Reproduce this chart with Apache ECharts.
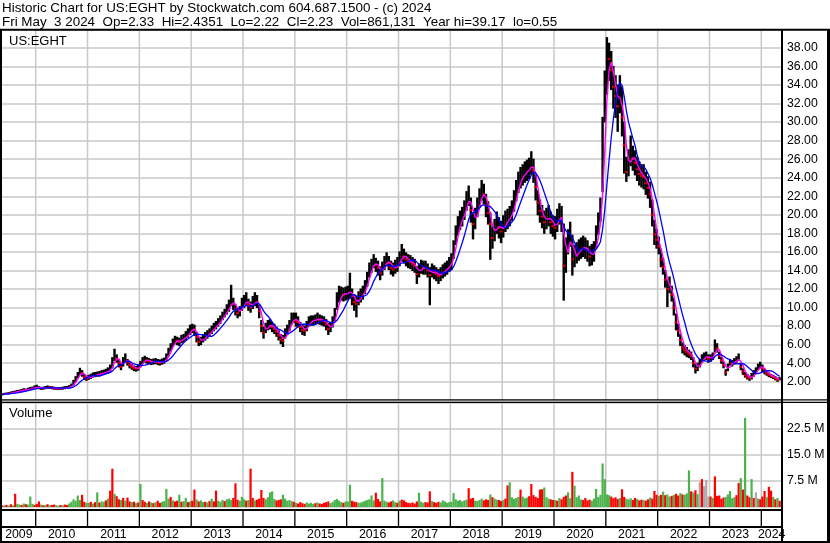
<!DOCTYPE html>
<html><head><meta charset="utf-8">
<script src="https://cdn.jsdelivr.net/npm/echarts@6/dist/echarts.min.js"></script>
<style>html,body{margin:0;padding:0;background:#fff}#c{width:830px;height:543px}</style>
</head><body><div id="c"></div>
<script>
// ---- data: one value per half-month, starting with the first half of May 2009 ----
const FIRST_HALF_MONTH = 8; // index of "May, first half" within 2009 (0 = Jan 1st half)
const yearLabels = ['2009','2010','2011','2012','2013','2014','2015','2016','2017','2018','2019','2020','2021','2022','2023','2024'];

const closeP = [
/*2009*/0.65,0.68,0.72,0.75,0.82,0.86,0.92,0.98,1.02,1.08,1.15,1.12,1.2,1.27,1.32,1.42,
/*2010*/1.42,1.35,1.28,1.3,1.35,1.4,1.38,1.35,1.3,1.28,1.25,1.27,1.3,1.35,1.38,1.45,1.55,1.9,2.3,2.7,3.1,2.9,2.5,2.35,
/*2011*/2.45,2.55,2.7,2.75,2.8,2.85,2.95,3.0,3.1,3.2,3.4,3.9,4.9,4.5,4.0,3.6,4.2,4.6,4.1,3.8,3.6,3.45,3.4,3.5,
/*2012*/3.9,4.3,4.4,4.3,4.2,4.1,4.15,4.2,4.1,4.05,4.15,4.25,4.6,5.2,5.7,6.2,6.5,6.4,6.3,6.6,6.7,6.9,7.2,7.6,
/*2013*/7.8,7.6,6.8,6.3,6.4,6.7,6.9,7.1,7.3,7.6,7.9,8.1,8.4,8.7,9.1,9.4,9.8,10.1,10.9,10.4,9.8,9.4,9.6,10.3,
/*2014*/10.6,10.8,10.3,10.0,10.5,10.8,10.6,9.6,8.0,7.3,7.8,8.1,8.2,7.9,7.7,7.4,7.0,6.6,6.4,7.2,7.6,8.0,8.8,8.9,
/*2015*/8.5,8.4,7.9,7.6,7.5,8.0,8.5,8.6,8.6,8.7,8.8,8.7,8.6,8.5,8.2,7.7,7.9,8.4,9.2,10.5,11.3,11.5,11.4,11.5,
/*2016*/11.6,11.9,11.2,10.6,10.4,11.0,11.3,11.6,12.2,13.0,14.0,14.5,15.0,14.6,14.3,13.7,14.2,14.8,15.2,14.8,14.3,14.1,14.4,14.6,
/*2017*/15.2,15.8,15.5,15.2,15.0,14.9,14.7,14.5,13.6,14.0,14.4,14.3,14.3,14.0,13.5,14.0,13.8,13.6,13.4,13.6,13.9,14.1,14.3,14.6,
/*2018*/15.0,16.2,17.8,18.8,19.4,19.8,20.5,21.5,22.2,20.5,19.0,19.6,20.8,21.8,22.6,22.2,21.0,20.2,19.0,17.5,18.4,19.2,18.6,18.2,
/*2019*/18.8,19.3,19.5,19.8,20.4,21.5,22.6,23.5,24.0,24.3,24.6,24.8,25.0,25.6,24.8,23.0,21.3,20.4,19.8,19.2,19.6,19.9,19.2,18.8,
/*2020*/18.6,19.4,20.2,19.6,14.5,16.0,17.2,18.0,15.2,15.5,15.9,16.2,16.4,16.6,16.4,16.1,15.5,15.7,16.0,17.6,19.0,20.5,27.0,33.0,
/*2021*/37.0,36.8,35.6,33.8,32.8,31.7,33.4,30.5,27.5,24.6,25.6,26.8,26.0,25.6,24.9,24.4,24.2,24.1,23.4,22.9,22.2,20.0,17.9,17.3,
/*2022*/16.6,15.2,14.4,13.0,12.0,12.4,11.4,10.0,8.4,7.5,6.5,5.7,5.4,5.2,5.0,4.8,4.0,3.4,3.6,4.0,4.5,4.7,4.8,4.5,
/*2023*/4.5,4.7,6.0,5.6,4.8,4.3,3.8,3.0,3.6,4.1,4.0,4.2,4.4,4.6,3.6,3.1,2.7,2.5,2.35,2.6,2.9,3.2,3.6,3.8,
/*2024*/3.4,3.1,2.9,2.75,2.6,2.5,2.35,2.2,2.23
];
const lowP = [
/*2009*/0.58,0.62,0.66,0.69,0.75,0.79,0.85,0.9,0.95,1.0,1.05,1.04,1.1,1.17,1.22,1.3,
/*2010*/1.3,1.25,1.18,1.2,1.25,1.3,1.28,1.24,1.2,1.18,1.15,1.17,1.2,1.25,1.28,1.35,1.45,1.65,2.05,2.45,2.8,2.6,2.25,2.15,
/*2011*/2.25,2.35,2.5,2.55,2.6,2.65,2.75,2.8,2.9,2.95,3.15,3.5,4.3,4.1,3.6,3.3,3.7,4.2,3.8,3.5,3.35,3.2,3.15,3.25,
/*2012*/3.6,4.0,4.1,4.0,3.95,3.85,3.9,3.95,3.85,3.8,3.9,4.0,4.3,4.8,5.3,5.8,6.1,6.0,5.9,6.2,6.3,6.5,6.8,7.1,
/*2013*/7.3,7.0,6.3,5.9,6.0,6.3,6.5,6.7,6.9,7.2,7.5,7.7,8.0,8.3,8.7,9.0,9.3,9.6,10.2,9.8,9.2,8.9,9.1,9.7,
/*2014*/10.0,10.2,9.7,9.5,9.9,10.2,10.0,8.9,7.4,6.7,7.3,7.6,7.7,7.4,7.2,6.9,6.5,6.1,5.8,6.7,7.1,7.5,8.2,8.4,
/*2015*/8.0,7.9,7.4,7.1,7.0,7.5,8.0,8.1,8.1,8.2,8.3,8.2,8.1,8.0,7.6,7.1,7.4,7.9,8.6,9.8,10.6,10.8,10.7,10.8,
/*2016*/10.9,11.0,10.3,9.7,9.0,10.3,10.6,10.9,11.5,12.3,13.3,13.8,14.3,13.9,13.5,13.0,13.5,14.1,14.5,14.1,13.6,13.4,13.7,13.9,
/*2017*/14.5,15.0,14.8,14.5,14.3,14.2,14.0,13.8,12.6,13.3,13.7,13.6,13.6,13.3,10.3,13.3,13.1,12.9,12.6,12.9,13.2,13.4,13.6,13.9,
/*2018*/14.1,15.3,16.8,17.8,18.4,18.8,19.5,20.5,21.0,19.2,17.4,18.5,19.8,20.8,21.6,21.2,19.8,19.0,15.2,16.4,17.2,18.0,17.5,17.0,
/*2019*/17.6,18.2,18.5,18.8,19.4,20.4,21.5,22.4,22.9,23.2,23.5,23.7,23.9,24.4,23.5,21.6,20.0,19.2,18.6,18.0,18.5,18.8,18.0,17.7,
/*2020*/17.4,18.2,19.0,18.2,10.8,13.8,15.8,16.6,13.5,14.4,14.8,15.1,15.3,15.5,15.3,15.0,14.5,14.6,15.0,16.4,17.9,19.3,22.5,30.0,
/*2021*/33.0,34.5,33.5,31.5,30.5,29.0,31.0,28.5,24.5,23.6,24.2,25.3,24.8,24.3,23.7,23.2,23.0,22.8,22.2,21.8,20.8,18.8,16.8,16.4,
/*2022*/15.8,14.4,13.6,12.2,10.1,11.6,10.7,9.2,7.6,6.9,5.9,5.1,4.9,4.7,4.6,4.4,3.6,2.95,3.2,3.6,4.1,4.3,4.4,4.1,
/*2023*/4.2,4.4,5.2,5.2,4.5,4.0,3.5,2.7,3.2,3.8,3.7,3.9,4.1,4.3,3.3,2.8,2.5,2.3,2.15,2.3,2.6,2.9,3.3,3.5,
/*2024*/3.1,2.85,2.7,2.55,2.45,2.35,2.2,2.05,2.2
];
const highP = [
/*2009*/0.72,0.75,0.79,0.82,0.9,0.94,1.0,1.06,1.1,1.16,1.25,1.2,1.3,1.38,1.42,1.55,
/*2010*/1.62,1.48,1.4,1.42,1.48,1.55,1.5,1.47,1.42,1.38,1.36,1.38,1.42,1.47,1.5,1.58,1.75,2.15,2.55,3.0,3.45,3.2,2.75,2.6,
/*2011*/2.7,2.8,2.95,3.0,3.05,3.1,3.2,3.25,3.35,3.5,3.8,4.6,5.5,4.9,4.4,4.0,4.6,5.0,4.4,4.1,3.9,3.7,3.65,3.8,
/*2012*/4.2,4.6,4.75,4.6,4.5,4.4,4.45,4.5,4.4,4.35,4.45,4.55,5.0,5.6,6.1,6.6,6.9,6.8,6.7,7.0,7.1,7.4,7.7,8.1,
/*2013*/8.2,8.1,7.3,6.8,6.8,7.1,7.3,7.5,7.7,8.0,8.3,8.5,8.8,9.1,9.5,9.8,10.3,10.8,12.4,11.0,10.3,9.9,10.1,11.0,
/*2014*/11.3,11.6,10.9,10.6,11.2,11.6,11.3,10.3,8.6,7.9,8.3,8.6,8.7,8.4,8.2,7.9,7.5,7.1,7.0,7.7,8.1,8.6,9.4,9.4,
/*2015*/9.4,9.0,8.4,8.1,8.0,8.5,9.0,9.1,9.1,9.2,9.4,9.2,9.1,9.0,8.7,8.3,8.4,9.0,9.9,11.6,12.3,12.2,12.1,12.2,
/*2016*/12.3,13.7,12.0,11.4,11.2,11.7,12.0,12.3,12.9,13.8,14.8,15.2,15.7,15.3,15.0,14.4,14.9,15.5,15.9,15.5,15.0,14.8,15.1,15.4,
/*2017*/16.0,16.8,16.3,15.9,15.7,15.6,15.4,15.2,14.4,14.7,15.1,15.0,15.0,14.7,14.3,14.7,14.5,14.3,14.1,14.3,14.6,14.8,15.0,15.4,
/*2018*/15.8,17.2,18.8,19.8,20.4,20.8,21.5,22.5,23.1,21.8,20.2,20.7,21.8,22.8,23.7,23.3,22.2,21.4,20.2,18.7,19.5,20.3,19.7,19.3,
/*2019*/19.9,20.4,20.6,20.9,21.5,22.6,23.7,24.6,25.1,25.4,25.7,25.9,26.1,26.8,26.0,24.3,22.6,21.6,21.0,20.4,20.7,21.0,20.3,19.9,
/*2020*/19.8,20.6,21.2,20.9,19.0,17.5,18.4,19.2,17.8,16.7,17.0,17.3,17.5,17.7,17.5,17.2,16.6,16.8,17.1,18.8,20.2,21.8,30.5,35.5,
/*2021*/39.1,38.5,37.6,36.0,35.0,34.0,35.0,33.8,30.0,26.2,27.0,28.5,27.4,26.9,26.2,25.7,25.4,25.4,24.6,24.1,23.5,21.6,19.4,18.4,
/*2022*/17.6,16.3,15.3,14.0,13.0,13.3,12.3,11.0,9.3,8.2,7.1,6.2,5.9,5.7,5.4,5.2,4.6,3.9,4.0,4.4,4.9,5.1,5.2,4.9,
/*2023*/4.9,5.1,6.5,6.1,5.2,4.6,4.1,3.3,3.9,4.4,4.3,4.5,4.7,5.0,4.0,3.4,3.0,2.8,2.6,2.9,3.2,3.5,3.9,4.1,
/*2024*/3.8,3.35,3.1,2.95,2.8,2.7,2.55,2.4,2.44
];
// volume in millions of shares
const volumeM = [
/*2009*/0.4,0.5,0.6,0.4,0.8,0.5,3.8,0.9,0.7,0.6,1.0,0.8,0.7,3.0,0.9,0.6,
/*2010*/0.9,1.6,0.7,0.5,0.6,0.8,0.5,0.6,0.7,0.5,0.4,0.6,0.5,0.7,0.6,1.0,1.5,2.2,1.8,3.3,2.0,3.5,1.5,1.2,
/*2011*/1.2,1.5,1.0,1.4,4.2,1.3,1.6,1.5,1.9,2.4,4.7,11.0,3.8,3.1,2.2,2.0,2.6,1.8,2.7,1.6,1.4,1.5,1.1,1.3,
/*2012*/6.6,2.0,1.5,1.2,1.6,1.3,1.1,1.4,1.8,1.2,1.5,1.7,5.2,2.4,2.9,1.9,1.6,1.8,3.5,1.5,1.7,2.6,1.4,1.6,
/*2013*/1.8,5.0,2.2,1.6,1.9,1.4,1.5,1.3,1.7,2.4,1.6,4.7,1.8,1.5,2.0,1.7,2.2,2.4,2.0,2.6,6.8,2.1,1.8,2.9,
/*2014*/2.2,1.8,2.0,11.0,2.6,1.9,2.1,2.4,4.9,2.6,2.2,2.8,4.2,4.5,2.3,1.9,2.0,2.2,3.5,2.4,1.8,2.0,1.7,1.5,
/*2015*/1.2,1.0,1.4,1.1,0.9,1.3,1.0,1.2,0.9,1.1,1.3,1.0,0.9,1.2,1.4,1.6,1.1,1.5,2.0,2.3,1.8,1.4,1.2,1.6,
/*2016*/1.6,6.4,1.8,1.5,1.4,1.2,1.3,1.5,1.8,2.0,2.2,3.3,1.9,4.1,2.3,1.6,8.3,1.8,1.5,1.3,1.6,1.9,1.4,1.2,
/*2017*/1.8,2.1,1.9,1.4,1.2,1.1,1.3,1.0,1.6,4.1,1.5,1.2,1.4,1.3,4.5,1.7,1.4,1.2,1.5,1.3,1.9,1.6,1.2,1.4,
/*2018*/1.5,4.0,2.2,1.8,2.0,1.6,1.9,2.1,5.4,2.4,2.6,1.8,1.7,2.0,2.4,1.9,2.2,2.0,3.6,2.8,2.4,2.1,2.0,1.7,
/*2019*/2.0,2.4,6.2,7.1,2.8,2.3,2.6,2.9,5.0,3.0,2.5,2.7,3.1,6.6,3.4,2.9,2.6,5.0,5.1,5.6,2.8,2.4,2.2,2.0,
/*2020*/2.0,1.8,2.6,2.2,2.9,3.3,4.2,2.5,10.1,6.1,2.8,3.3,2.2,2.0,2.6,1.9,2.1,1.8,2.4,5.2,2.9,3.5,12.5,8.0,
/*2021*/3.6,3.4,3.0,2.5,2.8,2.3,2.6,5.1,2.9,2.4,2.2,2.5,2.0,2.6,2.3,1.9,2.1,2.0,1.8,2.2,2.7,2.4,4.6,3.5,
/*2022*/3.2,3.5,4.4,3.4,3.6,3.0,3.2,3.5,3.8,3.3,4.0,3.6,3.5,3.9,10.5,4.5,4.2,4.8,3.7,7.1,8.0,6.0,7.8,3.0,
/*2023*/3.0,2.6,8.8,3.2,3.3,2.4,2.7,2.9,3.6,4.6,2.5,2.8,3.4,6.9,8.3,5.0,25.6,3.3,2.8,8.0,2.6,4.2,2.4,2.2,
/*2024*/3.0,4.6,2.8,5.8,4.7,2.9,2.2,2.6,1.8
];
// g = up (green), r = down (red), x = grey
const volColorCode = [
'rgrgrgrggrgrgggr','rrgrgrgrrggrgrrggggggrrg','grgrgrggrgrrgrrgrgrrgrgr','grrgrgrgrrggggrgrrgrggrg',
'rrgrggrgrgrrgggrgggrrrgg','grgrrgrrrrgggggrrrgggggr','grrrrggggrgrrrrrggggggrg','ggrrrggggggggrrrgggrrggr',
'grrrrrrrrgggrrrgrrrggggg','ggggggggrrrggggrrrgrggrr','grrgggggrgggrrrrrrrgggrr','grgrrrggrggggrrrrggggggg',
'ggrrrrgrrgggrrgrrgrrgrrr','grgrggrgrrgrgggrgrgxrxxx','rgrrrrrgggggrrgrgrrgrxgr','rrgrrgrgr'
].join('');

// ---- layout / scales ----
const X_MIN = 2009.35, X_MAX = 2024.399;
const FONT = "'Liberation Sans', Arial, sans-serif";
const xOf = i => 2009 + (FIRST_HALF_MONTH + i + 0.5) / 24;

function sma(arr, w) {
  return arr.map((_, i) => {
    const s = Math.max(0, i - w + 1); let t = 0;
    for (let j = s; j <= i; j++) t += arr[j];
    return t / (i - s + 1);
  });
}
const maShort = sma(closeP, 3);
const maLong = sma(closeP, 8);

const barData = closeP.map((c, i) => [xOf(i), lowP[i], highP[i]]);
const downTicks = [];
closeP.forEach((c, i) => { if (i > 0 && c < closeP[i - 1]) downTicks.push([xOf(i), c]); });
const colMap = { g: '#4cb24c', r: '#ff0000', x: '#aaaaaa' };
const volData = volumeM.map((v, i) => ({ value: [xOf(i), v], itemStyle: { color: colMap[volColorCode[i]] } }));
const yearStarts = yearLabels.map(Number).filter(y => y > X_MIN);

function gridLines(params, api) {
  const cs = params.coordSys;
  const x = api.coord([api.value(0), 0])[0];
  return { type: 'line', shape: { x1: x, y1: cs.y, x2: x, y2: cs.y + cs.height },
           style: { stroke: '#c8c8c8', lineWidth: 1.5 } };
}

const chart = echarts.init(document.getElementById('c'), null, { renderer: 'canvas' });
const axisLabelBase = { color: '#000', fontSize: 12.3, fontFamily: FONT, margin: 5 };
const hiddenX = idx => ({ type: 'value', gridIndex: idx, min: X_MIN, max: X_MAX, show: false });

chart.setOption({
  animation: false,
  backgroundColor: '#fff',
  grid: [
    { left: 2, top: 29.3, width: 780, height: 371 },
    { left: 2, top: 402.5, width: 780, height: 104.5 },
    { left: 2, top: 511, width: 780, height: 15 }
  ],
  xAxis: [hiddenX(0), hiddenX(1), hiddenX(2)],
  yAxis: [
    { type: 'value', gridIndex: 0, min: 0, max: 40, interval: 2, position: 'right',
      axisLine: { show: false }, axisTick: { show: false },
      splitLine: { lineStyle: { color: '#c8c8c8', width: 1.5 } },
      axisLabel: Object.assign({}, axisLabelBase, { formatter: v => (v > 0 && v < 40) ? v.toFixed(2) : '' }) },
    { type: 'value', gridIndex: 1, min: 0, max: 30, interval: 7.5, position: 'right',
      axisLine: { show: false }, axisTick: { show: false },
      splitLine: { lineStyle: { color: '#c8c8c8', width: 1.5 } },
      axisLabel: Object.assign({}, axisLabelBase, { formatter: v => (v > 0 && v < 30) ? v.toFixed(1) + ' M' : '' }) },
    { type: 'value', gridIndex: 2, min: 0, max: 1, show: false }
  ],
  series: [
    { type: 'custom', xAxisIndex: 0, yAxisIndex: 0, z: 1, silent: true,
      data: yearStarts.map(y => [y, 0]), renderItem: gridLines },
    { type: 'custom', xAxisIndex: 1, yAxisIndex: 1, z: 1, silent: true,
      data: yearStarts.map(y => [y, 0]), renderItem: gridLines },
    { type: 'custom', xAxisIndex: 0, yAxisIndex: 0, z: 2, silent: true, data: barData,
      encode: { x: 0, y: [1, 2] },
      renderItem: (params, api) => {
        const x = api.value(0);
        const a = api.coord([x, api.value(1)]), b = api.coord([x, api.value(2)]);
        return { type: 'line', shape: { x1: a[0], y1: a[1] + 0.5, x2: b[0], y2: b[1] - 0.5 },
                 style: { stroke: '#000', lineWidth: 2.4 } };
      } },
    { type: 'scatter', xAxisIndex: 0, yAxisIndex: 0, z: 3, silent: true, data: downTicks,
      symbol: 'rect', symbolSize: [3, 2], itemStyle: { color: '#ff0000' } },
    { type: 'line', xAxisIndex: 0, yAxisIndex: 0, z: 4, silent: true, showSymbol: false,
      data: maShort.map((v, i) => [xOf(i), v]), lineStyle: { color: '#ff00ff', width: 1.4 } },
    { type: 'line', xAxisIndex: 0, yAxisIndex: 0, z: 5, silent: true, showSymbol: false,
      data: maLong.map((v, i) => [xOf(i), v]), lineStyle: { color: '#0000ff', width: 1.3 } },
    { type: 'bar', xAxisIndex: 1, yAxisIndex: 1, z: 2, silent: true, barWidth: 2.2, data: volData },
    { type: 'custom', xAxisIndex: 2, yAxisIndex: 2, z: 2, silent: true,
      data: yearLabels.map(y => [Number(y), 0]),
      renderItem: (params, api) => {
        const cs = params.coordSys;
        const y = api.value(0);
        const xs = api.coord([Math.max(y, X_MIN), 0])[0];
        const xe = api.coord([Math.min(y + 1, X_MAX), 0])[0];
        const children = [{ type: 'text', style: { text: String(y), x: (xs + xe) / 2, y: cs.y + 24,
          align: 'center', verticalAlign: 'middle', font: '12.3px ' + FONT, fill: '#000' } }];
        if (y > X_MIN) children.push({ type: 'line', shape: { x1: xs, y1: cs.y, x2: xs, y2: cs.y + cs.height },
          style: { stroke: '#000', lineWidth: 1.3 } });
        return { type: 'group', children };
      } }
  ],
  graphic: { elements: [
    { type: 'text', x: 2, y: 8, z: 100, style: { text: 'Historic Chart for US:EGHT by Stockwatch.com 604.687.1500 - (c) 2024', font: '13.4px ' + FONT, fill: '#000', verticalAlign: 'middle' } },
    { type: 'text', x: 2, y: 22, z: 100, style: { text: 'Fri May  3 2024  Op=2.33  Hi=2.4351  Lo=2.22  Cl=2.23  Vol=861,131  Year hi=39.17  lo=0.55', font: '13.4px ' + FONT, fill: '#000', verticalAlign: 'middle' } },
    { type: 'text', x: 9, y: 41.3, z: 100, style: { text: 'US:EGHT', font: '13px ' + FONT, fill: '#000', verticalAlign: 'middle' } },
    { type: 'text', x: 9, y: 413.3, z: 100, style: { text: 'Volume', font: '13px ' + FONT, fill: '#000', verticalAlign: 'middle' } },
    { type: 'rect', z: 100, shape: { x: 0, y: 28.8, width: 830, height: 2 }, style: { fill: '#000' } },
    { type: 'rect', z: 100, shape: { x: 0, y: 29, width: 2, height: 514 }, style: { fill: '#000' } },
    { type: 'rect', z: 100, shape: { x: 827, y: 29, width: 3, height: 514 }, style: { fill: '#000' } },
    { type: 'rect', z: 100, shape: { x: 781, y: 29, width: 2, height: 514 }, style: { fill: '#000' } },
    { type: 'rect', z: 100, shape: { x: 0, y: 399.2, width: 830, height: 1.2 }, style: { fill: '#000' } },
    { type: 'rect', z: 100, shape: { x: 0, y: 401.8, width: 830, height: 1.2 }, style: { fill: '#000' } },
    { type: 'rect', z: 100, shape: { x: 0, y: 509, width: 782, height: 2 }, style: { fill: '#000' } },
    { type: 'rect', z: 100, shape: { x: 0, y: 526, width: 782, height: 2 }, style: { fill: '#000' } },
    { type: 'rect', z: 100, shape: { x: 0, y: 541, width: 830, height: 2 }, style: { fill: '#000' } }
  ] }
});
</script>
</body></html>
